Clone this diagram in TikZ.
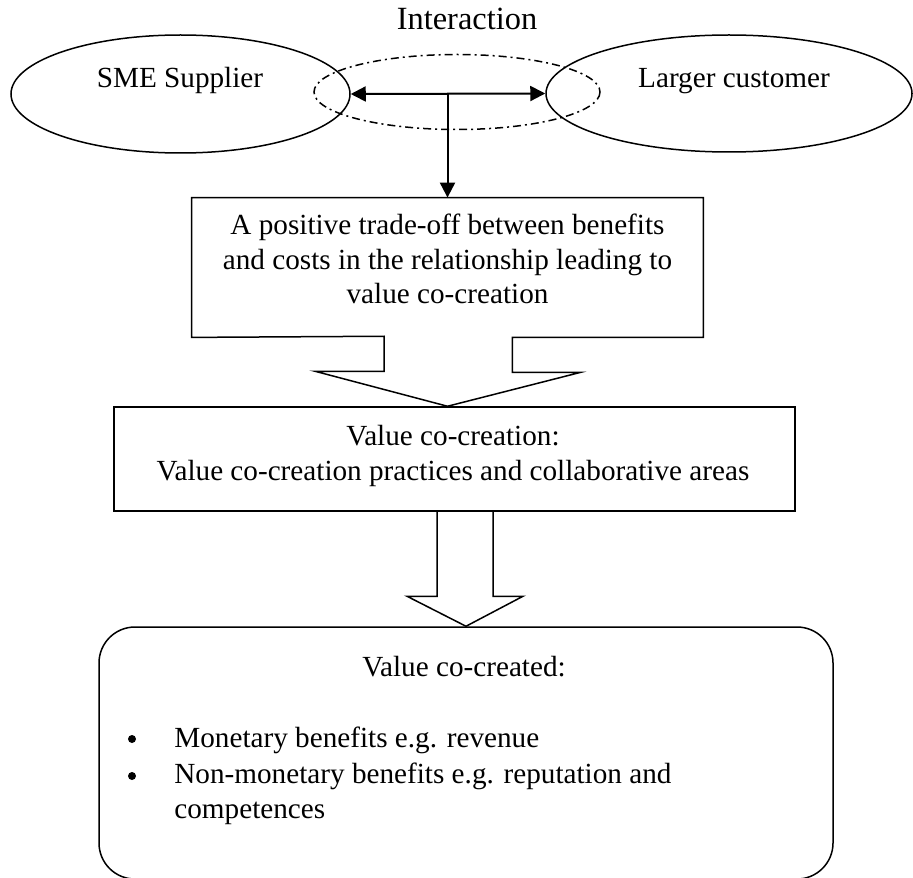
\documentclass[tikz,border=0pt]{standalone}
\usepackage{fontspec}
\setmainfont{Liberation Serif}
\usetikzlibrary{shapes.geometric,arrows.meta,calc}

\begin{document}
\begin{tikzpicture}[x=0.5pt,y=-0.5pt,
  txt/.style={inner sep=0pt,font=\fontsize{14.6}{17.2}\selectfont},
  party/.style={ellipse,draw,line width=0.75pt,inner sep=0pt},
  frame/.style={draw,line width=0.75pt},
  dot/.style={circle,fill,inner sep=0pt,minimum size=4pt},
  conn/.style={line width=1pt,-{Triangle[length=7.5pt,width=7.5pt]}},
  twoway/.style={line width=1pt,{Triangle[length=7.5pt,width=7.5pt]}-{Triangle[length=7.5pt,width=7.5pt]}}]
\useasboundingbox (0,0) rectangle (913,877);

% the two parties
\node[party,minimum width=169.5pt,minimum height=59pt] (sme) at (180.5,94) {};
\node[party,minimum width=183pt,minimum height=58.5pt] (cust) at (729,93.5) {};
\draw[line width=0.75pt,dash pattern=on 4pt off 2pt on 1pt off 2pt] (457,92) ellipse [x radius=143,y radius=37.5];
\node[txt,font=\fontsize{16.2}{19}\selectfont,anchor=base] (inter) at (467,30) {Interaction};
\node[txt,anchor=base] (smetxt) at (180,88) {SME Supplier};
\node[txt,anchor=base] (custtxt) at (734,88) {Larger customer};

% trade-off callout
\node[minimum width=255.5pt,minimum height=69.5pt,inner sep=0pt] (trade) at (447.5,267.5) {};
\node[txt,anchor=north,align=center] (tradetxt) at (447.5,214)
  {A positive trade-off between benefits\\and costs in the relationship leading to\\value co-creation};
\node[frame,minimum width=340.5pt,minimum height=52pt] (cocreate) at (454.5,459) {};
\node[txt,anchor=north,align=center] (cocreatetxt) at (453,425)
  {Value co-creation:\\Value co-creation practices and collaborative areas};
\draw[frame] (trade.north west) -- (trade.north east) -- (trade.south east) -- ++(-191,0)
  -- ++(0,35) -- ++(68,0) -- (trade.south |- cocreate.north) -- ++(-132.5,-35)
  -- ++(69,0) -- ++(0,-35) -- (trade.south west) -- cycle;

% value co-created
\node[frame,rounded corners=18pt,minimum width=367pt,minimum height=126pt] (result) at (466,753) {};
\coordinate (shaftl) at ($(result.north)+(-29,0)$);
\coordinate (shaftr) at ($(result.north)+(27,0)$);
\draw[frame] (shaftl |- cocreate.south) -- ($(result.north)+(-29,-30)$)
  -- ($(result.north)+(-59,-30)$) -- (result.north) -- ($(result.north)+(57,-30)$)
  -- ($(result.north)+(27,-30)$) -- (shaftr |- cocreate.south);
\node[txt,anchor=base] (restitle) at (464,676) {Value co-created:};
\node[dot] (dot1) at (132,739) {};
\node[txt,anchor=base west] (gain1) at (174,747) {Monetary benefits e.g. revenue};
\node[dot] (dot2) at (132,776) {};
\node[txt,anchor=north west,align=left] (gain2) at (174,763)
  {Non-monetary benefits e.g. reputation and\\competences};

% interaction arrows
\draw[twoway] (sme.east) -- (cust.west);
\draw[conn] (trade.north |- sme.east) -- (trade.north);
\end{tikzpicture}
\end{document}
